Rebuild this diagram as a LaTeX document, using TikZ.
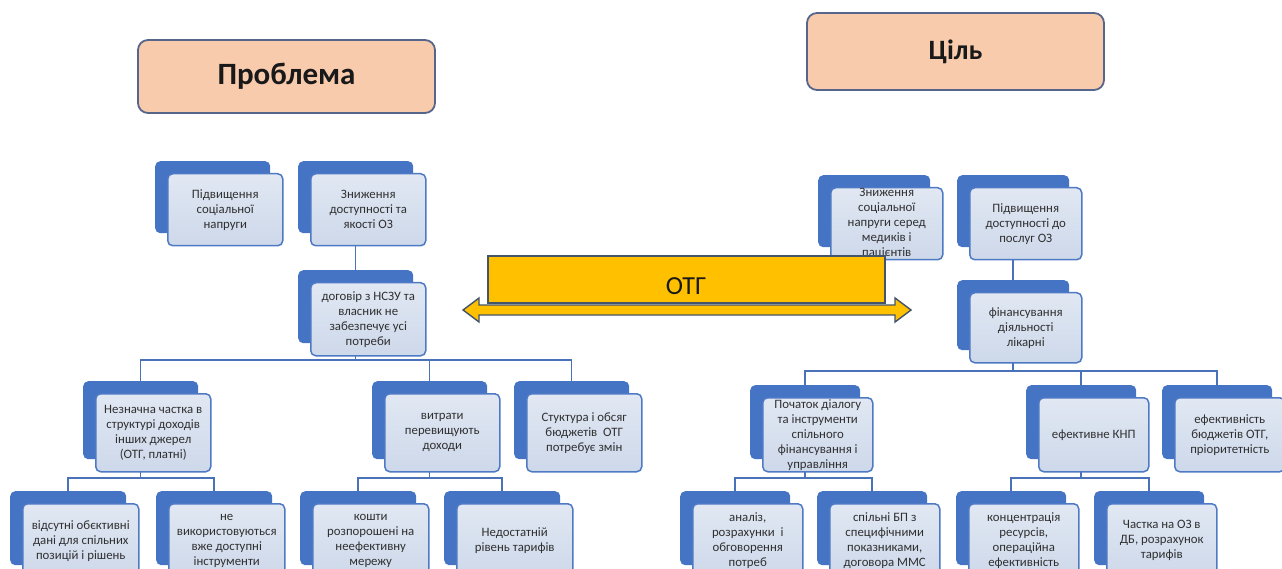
\documentclass[tikz,border=0pt]{standalone}
\usepackage{fontspec}
\setmainfont{Carlito}
\usetikzlibrary{backgrounds,calc}

\definecolor{peach}{HTML}{F8CBAD}
\definecolor{titleborder}{HTML}{56658A}
\definecolor{otgyellow}{HTML}{FFC000}
\definecolor{otgborder}{HTML}{44546A}
\definecolor{backblue}{HTML}{4674C4}
\definecolor{frontborder}{HTML}{4E79C4}
\definecolor{fronttop}{HTML}{E1E8F3}
\definecolor{frontbottom}{HTML}{CDD8EA}
\definecolor{connblue}{HTML}{4A72B8}
\definecolor{cardink}{HTML}{303030}

\tikzset{
  titlebox/.style={draw=titleborder, line width=1.8pt, fill=peach,
    rounded corners=10pt, font=\bfseries, text=black!90},
  cardback/.style={anchor=north west, fill=backblue, draw=none,
    rounded corners=5pt, inner sep=0pt},
  cardfront/.style={anchor=north west, draw=frontborder, line width=1.5pt,
    top color=fronttop, bottom color=frontbottom, rounded corners=5pt, inner sep=0pt},
  cardtext/.style={align=center, inner sep=0pt, text=cardink,
    font=\fontsize{12.8}{15}\selectfont},
  conn/.style={draw=connblue, line width=1.5pt},
  otgshape/.style={fill=otgyellow, draw=otgborder, line width=1.4pt},
}

% an org-chart card: darker plate behind, lighter plate in front, text on top
% #1 name, #2 x, #3 y (top-left of the plate behind), #4 width, #5 height, #6 text
\newcommand\orgcard[6]{%
  \node[cardback, minimum width=#4pt, minimum height=#5pt] (#1-back) at (#2,#3) {};
  \node[cardfront, minimum width=#4pt, minimum height=#5pt] (#1) at ({#2+12},{#3+12}) {};
  \node[cardtext] (#1-t) at (#1.center) {#6};
}

\begin{document}
\begin{tikzpicture}[x=1pt,y=-1pt]
\useasboundingbox (0,0) rectangle (1282,569);
\clip (0,0) rectangle (1282,569);

% headings
\node[titlebox, minimum width=297pt, minimum height=73pt,
      font=\bfseries\fontsize{31}{35}\selectfont] (problem) at (286.5,76.5) {Проблема};
\node[titlebox, minimum width=297pt, minimum height=77pt,
      font=\bfseries\fontsize{28}{32}\selectfont] (goal) at (955.5,51.5) {Ціль};

% problem tree
\orgcard{A}{155}{161}{115}{72}{Підвищення\\соціальної\\напруги}
\orgcard{B}{298}{161}{115}{72}{Зниження\\доступності та\\якості ОЗ}
\orgcard{C}{298}{270}{115}{73}{договір з НСЗУ та\\власник не\\забезпечує усі\\потреби}
\orgcard{D1}{83}{381}{115}{78}{Незначна частка в\\структурі доходів\\інших джерел\\(ОТГ, платні)}
\orgcard{D2}{372}{381}{115}{78}{витрати\\перевищують\\доходи}
\orgcard{D3}{514}{381}{115}{78}{Стуктура і обсяг\\бюджетів\ \ ОТГ\\потребує змін}
\orgcard{E1}{10}{491}{116}{74}{відсутні обєктивні\\дані для спільних\\позицій і рішень}
\orgcard{E2}{156}{491}{116}{74}{не\\використовуються\\вже доступні\\інструменти}
\orgcard{E3}{300}{491}{116}{74}{кошти\\розпорошені на\\неефективну\\мережу}
\orgcard{E4}{444}{491}{116}{74}{Недостатній\\рівень тарифів}

% goal tree
\orgcard{F1}{818}{175}{112}{72}{Зниження\\соціальної\\напруги серед\\медиків і\\пацієнтів}
\orgcard{F2}{957}{175}{112}{72}{Підвищення\\доступності до\\послуг ОЗ}
\orgcard{G}{957}{280}{112}{70}{фінансування\\діяльності\\лікарні}
\orgcard{H1}{750}{385}{110}{74}{Початок діалогу\\та інструменти\\спільного\\фінансування і\\управління}
\orgcard{H2}{1026}{385}{110}{74}{ефективне КНП}
\orgcard{H3}{1162}{385}{110}{74}{ефективність\\бюджетів ОТГ,\\пріоритетність}
\orgcard{I1}{680}{491}{110}{74}{аналіз,\\розрахунки\ \ і\\обговорення\\потреб}
\orgcard{I2}{817}{491}{110}{74}{спільні БП з\\специфічними\\показниками,\\договора ММС}
\orgcard{I3}{956}{491}{110}{74}{концентрація\\ресурсів,\\операційна\\ефективність}
\orgcard{I4}{1094}{491}{110}{74}{Частка на ОЗ в\\ДБ, розрахунок\\тарифів}

% tree connectors, behind the cards
\begin{pgfonlayer}{background}
  \draw[conn] (B-back.center) -- (C-back.north);
  \draw[conn] (C-back.center) -- (C-back.center |- 0,360);
  \draw[conn] (D1-back.north) |- (D3-back.north |- 0,360) -- (D3-back.north);
  \draw[conn] (D2-back.north) -- (D2-back.north |- 0,360);
  \draw[conn] (D1-back.center) -- (D1-back.center |- 0,478);
  \draw[conn] (E1-back.north) |- (E2-back.north |- 0,478) -- (E2-back.north);
  \draw[conn] (D2-back.center) -- (D2-back.center |- 0,478);
  \draw[conn] (E3-back.north) |- (E4-back.north |- 0,478) -- (E4-back.north);

  \draw[conn] (F2-back.center) -- (G-back.north);
  \draw[conn] (G-back.center) -- (G-back.center |- 0,371);
  \draw[conn] (H1-back.north) |- (H3-back.north |- 0,371) -- (H3-back.north);
  \draw[conn] (H2-back.north) -- (H2-back.north |- 0,371);
  \draw[conn] (H1-back.center) -- (H1-back.center |- 0,478);
  \draw[conn] (I1-back.north) |- (I2-back.north |- 0,478) -- (I2-back.north);
  \draw[conn] (H2-back.center) -- (H2-back.center |- 0,478);
  \draw[conn] (I3-back.north) |- (I4-back.north |- 0,478) -- (I4-back.north);
\end{pgfonlayer}

% the community (ОТГ) band with its two-way arrow
\node[otgshape, minimum width=397pt, minimum height=47pt, inner sep=0pt] (otg) at (686.5,279.5) {};
\node[font=\fontsize{26}{30}\selectfont, text=black!90, inner sep=0pt] (otg-t) at (686,286) {ОТГ};
\coordinate (arrL) at (463,310);
\coordinate (arrR) at (911,310);
\draw[otgshape, line join=miter]
  (arrL) -- ++(16,-12) -- ++(0,7) -- ($(arrR)+(-16,-5)$) -- ++(0,-7) -- (arrR)
  -- ++(-16,12) -- ++(0,-7) -- ($(arrL)+(16,5)$) -- ++(0,7) -- cycle;
\end{tikzpicture}
\end{document}
